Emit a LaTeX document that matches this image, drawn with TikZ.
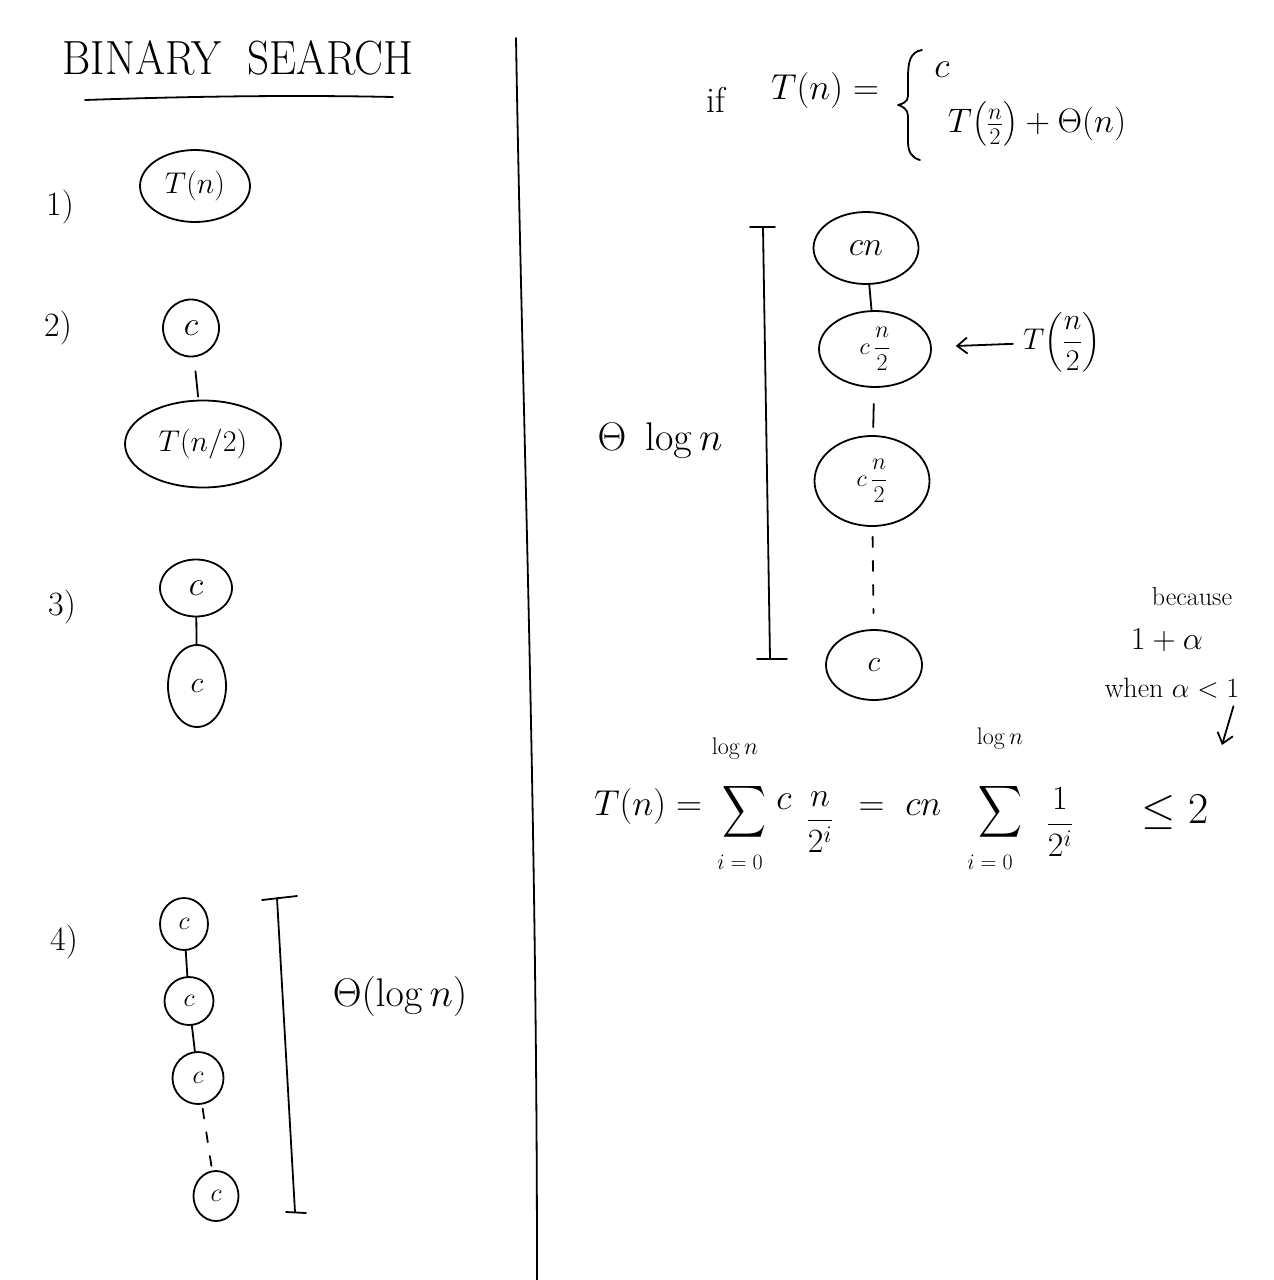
\documentclass[tikz,border=0pt]{standalone}
\usepackage{fix-cm}
\usepackage{amsmath}
\usetikzlibrary{shapes.geometric,arrows.meta}
\tikzset{
  pen/.style={line width=1.8pt, line cap=round, line join=round},
  blob/.style={draw, ellipse, line width=1.8pt, inner sep=0pt},
  hand/.style={font=\fontsize{#1}{#1}\selectfont, inner sep=0pt},
  dashline/.style={pen, dash pattern=on 10pt off 14pt},
  tip/.style={-{Straight Barb[length=10pt,width=16pt]}},
}
\newcommand{\bigsum}{\resizebox*{44pt}{58pt}{$\displaystyle\sum$}}
\begin{document}
\begin{tikzpicture}[x=1pt,y=-1pt]
\path[use as bounding box, fill=white] (0,0) rectangle (1274,1280);

% ---------- left half ----------
\node[hand=48] (title) at (238,58) {\scalebox{0.9}[1]{BINARY\ \ SEARCH}};
\draw[pen] (85,100) .. controls (200,96) and (300,95) .. (393,97);

\draw[pen] (516,38) .. controls (522,400) and (537,800) .. (537,1280);

% 1)
\node[hand=34] (l1) at (60,207) {1)};
\node[blob, minimum width=110pt, minimum height=72pt, hand=30] (t1) at (195,186) {$T(n)$};

% 2)
\node[hand=34] (l2) at (58,328) {2)};
\node[blob, minimum width=56pt, minimum height=57pt, hand=34] (c2) at (191,328) {$c$};
\node[blob, minimum width=156pt, minimum height=87pt, hand=30] (t2) at (203,444) {$T(n/2)$};
\draw[pen, shorten <=14pt, shorten >=3pt] (c2) -- (t2);

% 3)
\node[hand=34] (l3) at (62,607) {3)};
\node[blob, minimum width=72pt, minimum height=57pt, hand=34] (c3a) at (196,588) {$c$};
\node[blob, minimum width=58pt, minimum height=82pt, hand=30] (c3b) at (197,686) {$c$};
\draw[pen] (c3a) -- (c3b);

% 4)
\node[hand=34] (l4) at (64,942) {4)};
\node[blob, minimum width=48pt, minimum height=52pt, hand=26] (c4a) at (184,924) {$c$};
\node[blob, minimum width=49pt, minimum height=48pt, hand=26] (c4b) at (189,1001) {$c$};
\node[blob, minimum width=51pt, minimum height=52pt, hand=26] (c4c) at (198,1078) {$c$};
\node[blob, minimum width=45pt, minimum height=50pt, hand=26] (c4d) at (216,1196) {$c$};
\draw[pen] (c4a) -- (c4b);
\draw[pen] (c4b) -- (c4c);
\draw[dashline, shorten <=4pt, shorten >=4pt] (c4c) -- (c4d);

\draw[pen] (262,900) -- (297,896);
\draw[pen] (277,898) -- (295,1212);
\draw[pen] (286,1212) -- (306,1213);
\node[hand=40] (th1) at (400,996) {$\Theta(\log n)$};

% ---------- right half ----------
\node[hand=36] (if) at (716,100) {if};
\node[hand=36] (tn) at (825,90) {$T(n)=$};
\draw[pen] (922,50) .. controls (910,52) and (908,62) .. (908,78)
  -- (908,96) .. controls (908,102) and (902,104) .. (898,105)
  .. controls (902,106) and (908,109) .. (908,116)
  -- (908,142) .. controls (908,152) and (912,158) .. (920,160);
\node[hand=36] (pc1) at (942,70) {$c$};
\node[hand=34] (pc2) at (1037,124) {$T\bigl(\tfrac{n}{2}\bigr)+\Theta(n)$};

% tree
\node[blob, minimum width=105pt, minimum height=72pt, hand=34] (r1) at (866,248) {$cn$};
\node[blob, minimum width=112pt, minimum height=76pt, hand=24] (r2) at (875,349) {$c\,\dfrac{n}{2}$};
\node[blob, minimum width=115pt, minimum height=90pt, hand=24] (r3) at (872,481) {$c\,\dfrac{n}{2}$};
\node[blob, minimum width=96pt, minimum height=70pt, hand=30] (r4) at (874,665) {$c$};
\draw[pen] (r1) -- (r2);
\draw[pen, shorten <=16pt, shorten >=8pt] (r2) -- (r3);
\draw[dashline, shorten <=10pt, shorten >=16pt] (r3) -- (r4);

\draw[pen] (750,227) -- (775,227);
\draw[pen] (763,228) -- (770,658);
\draw[pen] (757,659) -- (787,659);
\node[hand=40] (th2) at (660,440) {$\Theta\ \log n$};

\node[hand=30] (tn2) at (1062,342) {$T\!\left(\dfrac{n}{2}\right)$};
\draw[pen, tip, shorten <=10pt, shorten >=24pt] (tn2) -- (r2);

% because note
\node[hand=26] (bec) at (1192,597) {because};
\node[hand=32] (opa) at (1167,640) {$1+\alpha$};
\node[hand=28] (when) at (1172,688) {when $\alpha<1$};
\coordinate (arrtip) at (1222,745);
\draw[pen, tip] ([xshift=-6pt,yshift=-8pt]when.south east) -- (arrtip);

% bottom formula
\node[hand=36] (f1) at (648,806) {$T(n)=$};
\node (s1) at (744,812) {\bigsum};
\node[hand=24] (s1u) at (735,748) {$\log n$};
\node[hand=22] (s1d) at (740,862) {$i=0$};
\node[hand=36] (fc) at (784,802) {$c$};
\node[hand=34] (fr1) at (820,822) {$\dfrac{n}{2^i}$};
\node[hand=36] (eq2) at (900,808) {$=\ cn$};
\node (s2) at (1000,812) {\bigsum};
\node[hand=24] (s2u) at (1000,738) {$\log n$};
\node[hand=22] (s2d) at (990,862) {$i=0$};
\node[hand=34] (fr2) at (1060,822) {$\dfrac{1}{2^i}$};
\node[hand=44] (le) at (1175,812) {$\leq 2$};
\end{tikzpicture}
\end{document}
